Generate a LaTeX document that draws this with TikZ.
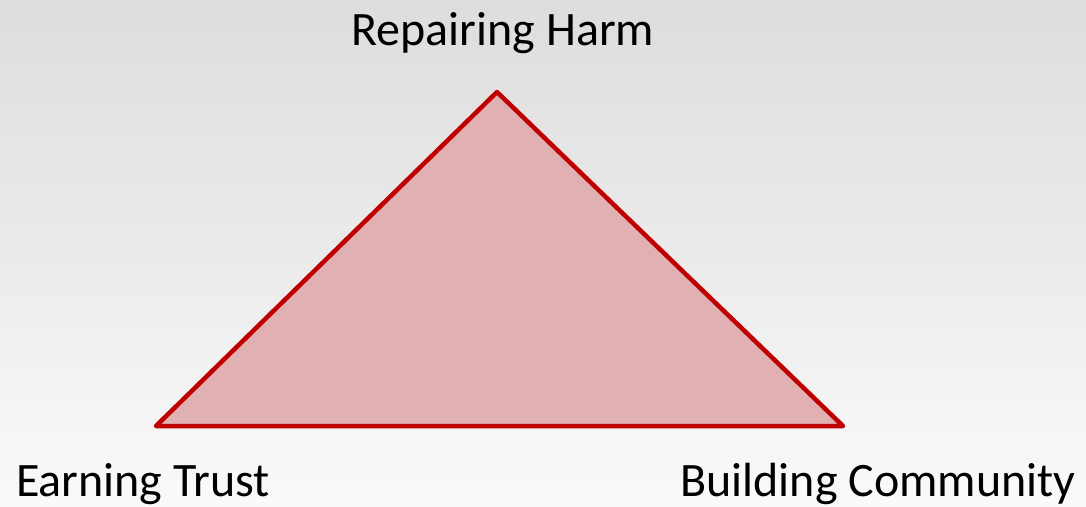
\documentclass[tikz,border=0pt]{standalone}
\usepackage{fontspec}
\setmainfont{Carlito}
\definecolor{bgtop}{HTML}{DEDCDD}
\definecolor{bgbot}{HTML}{FAFAFA}
\definecolor{tri}{HTML}{C00000}
\definecolor{trifill}{HTML}{E0B0B3}
\tikzset{
  lbl/.style={font=\fontsize{48}{56}\selectfont, text=black, inner sep=0pt, anchor=base},
  tribox/.style={draw=tri, fill=trifill, line width=4.5pt, line join=round}
}
\begin{document}
\begin{tikzpicture}[x=1pt,y=-1pt]
\shade[top color=bgtop, bottom color=bgbot] (0,0) rectangle (1086,506);
\useasboundingbox (0,0) rectangle (1086,506);
\coordinate (T) at (497,92);
\coordinate (L) at (156,426);
\coordinate (R) at (843,426);
\draw[tribox] (T) -- (L) -- (R) -- cycle;
\node[lbl] (rh) at (503,45) {Repairing Harm};
\node[lbl] (et) at (143,496) {Earning Trust};
\node[lbl] (bc) at (878,496) {Building Community};
\end{tikzpicture}
\end{document}
